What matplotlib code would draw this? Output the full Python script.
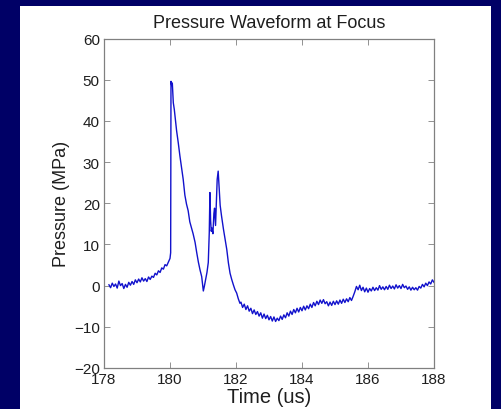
import numpy as np
import matplotlib.pyplot as plt
from matplotlib.patches import Rectangle

plt.rcParams['font.family'] = ['Liberation Sans', 'DejaVu Sans']

# baseline before the shock (us, MPa)
t_pre = [178.15, 178.20, 178.25, 178.30, 178.35, 178.40, 178.45, 178.50, 178.55, 178.60,
         178.65, 178.70, 178.75, 178.80, 178.85, 178.90, 178.95, 179.00, 179.05, 179.10,
         179.15, 179.20, 179.25, 179.30, 179.35, 179.40, 179.45, 179.50, 179.55, 179.60,
         179.65, 179.70, 179.75, 179.80, 179.85, 179.90, 179.95, 180.00, 180.02]
p_pre = [0.2, -0.5, 0.6, -0.2, 0.4, -0.6, 1.1, 0.0, 0.5, -0.7,
         0.3, -0.4, 0.8, 0.1, 1.0, 0.3, 1.4, 0.7, 1.6, 0.9,
         1.9, 1.1, 1.7, 1.0, 2.1, 1.5, 2.3, 2.0, 3.0, 2.6,
         3.6, 3.2, 4.3, 4.0, 5.1, 4.8, 5.7, 6.6, 8.0]

# shock front and secondary peaks
t_pulse = [180.03, 180.05, 180.07, 180.10, 180.13, 180.16, 180.20, 180.25, 180.30, 180.35,
           180.40, 180.45, 180.50, 180.55, 180.60, 180.66, 180.70, 180.76, 180.81, 180.86,
           180.91, 180.96, 181.01, 181.04, 181.08, 181.12, 181.16, 181.19, 181.21, 181.23,
           181.25, 181.27, 181.30, 181.33, 181.35, 181.38, 181.41, 181.43, 181.46, 181.49,
           181.52, 181.56, 181.62, 181.67, 181.72, 181.77, 181.82, 181.87, 181.92, 181.97,
           182.02, 182.07, 182.12]
p_pulse = [49.6, 48.6, 49.2, 44.4, 42.8, 40.5, 37.6, 34.7, 31.5, 28.6,
           25.8, 22.0, 19.8, 18.2, 15.5, 13.7, 12.6, 10.5, 8.0, 5.7,
           3.8, 2.2, -1.3, -0.2, 1.5, 3.2, 5.6, 12.9, 22.6, 16.0,
           13.2, 14.0, 12.6, 17.5, 18.8, 14.6, 21.0, 25.8, 27.8, 23.5,
           19.5, 17.0, 13.7, 11.3, 8.8, 5.5, 3.0, 1.5, 0.2, -1.0,
           -1.8, -3.2, -4.3]

# rarefaction tail
t_post = [182.15, 182.20, 182.25, 182.30, 182.35, 182.40, 182.45, 182.50, 182.55, 182.60,
          182.65, 182.70, 182.75, 182.80, 182.85, 182.90, 182.95, 183.00, 183.05, 183.10,
          183.15, 183.20, 183.25, 183.30, 183.35, 183.40, 183.45, 183.50, 183.55, 183.60,
          183.65, 183.70, 183.75, 183.80, 183.85, 183.90, 183.95, 184.00, 184.05, 184.10,
          184.15, 184.20, 184.25, 184.30, 184.35, 184.40, 184.45, 184.50, 184.55, 184.60,
          184.65, 184.70, 184.75, 184.80, 184.85, 184.90, 184.95, 185.00, 185.05, 185.10,
          185.15, 185.20, 185.25, 185.30, 185.35, 185.40, 185.45, 185.50, 185.55, 185.60,
          185.65, 185.70, 185.75, 185.80, 185.85, 185.90, 185.95, 186.00, 186.05, 186.10,
          186.15, 186.20, 186.25, 186.30, 186.35, 186.40, 186.45, 186.50, 186.55, 186.60,
          186.65, 186.70, 186.75, 186.80, 186.85, 186.90, 186.95, 187.00, 187.05, 187.10,
          187.15, 187.20, 187.25, 187.30, 187.35, 187.40, 187.45, 187.50, 187.55, 187.60,
          187.65, 187.70, 187.75, 187.80, 187.85, 187.90, 187.95, 188.00]
p_post = [-4.0, -5.3, -4.5, -5.8, -4.9, -6.2, -5.5, -6.8, -5.9, -7.0,
          -6.3, -7.4, -6.6, -7.9, -6.9, -8.0, -7.2, -8.3, -7.5, -8.6,
          -7.6, -8.7, -7.9, -8.5, -7.4, -8.2, -7.1, -7.8, -6.6, -7.4,
          -6.2, -7.0, -5.8, -6.6, -5.5, -6.4, -5.3, -6.1, -5.0, -5.9,
          -4.9, -5.6, -4.5, -5.3, -4.1, -4.9, -3.8, -4.6, -3.5, -4.3,
          -3.4, -4.4, -3.9, -4.9, -4.0, -4.8, -3.8, -4.6, -3.7, -4.5,
          -3.5, -4.3, -3.3, -4.1, -3.2, -3.9, -2.9, -3.6, -2.6, -1.5,
          -0.2, -1.0, 0.1, -1.2, -0.4, -1.5, -0.6, -1.6, -0.7, -1.3,
          -0.4, -1.2, -0.5, -1.1, 0.0, -0.9, -0.3, -1.0, -0.2, -0.9,
          0.1, -0.7, -0.1, -0.8, 0.2, -0.6, 0.0, -0.7, 0.3, -0.5,
          -0.1, -0.9, -0.3, -1.1, -0.4, -1.0, -0.5, -1.1, -0.2, -0.6,
          0.3, -0.3, 0.6, 0.0, 0.9, 0.4, 1.4, 0.8]

t = np.array(t_pre + t_pulse + t_post)
p = np.array(p_pre + p_pulse + p_post)

xticks = [178, 180, 182, 184, 186, 188]
yticks = [-20, -10, 0, 10, 20, 30, 40, 50, 60]

fig = plt.figure(figsize=(5.01, 4.10), dpi=100, facecolor='#000066')
# white panel of the slide
fig.patches.append(Rectangle((20 / 501, 0), 471 / 501, 403 / 410,
                             transform=fig.transFigure, facecolor='white',
                             edgecolor='none', zorder=-10))

ax = fig.add_axes([104 / 501, 1 - 369 / 410, 330 / 501, 329.5 / 410])
ax.set_facecolor('white')
ax.plot(t, p, color='#1212cc', linewidth=1.0)

ax.set_xlim(178, 188)
ax.set_ylim(-20, 60)
ax.set_xticks(xticks)
ax.set_yticks(yticks)
ax.tick_params(direction='in', top=True, right=True, length=4, width=0.6,
               color='#808080', labelcolor='#1e1e1e', labelsize=11)
ax.tick_params(axis='x', pad=3)
ax.tick_params(axis='y', pad=3)
for s in ax.spines.values():
    s.set_color('#808080')
    s.set_linewidth(0.9)

ax.set_title('Pressure Waveform at Focus', fontsize=13, color='#1e1e1e', pad=8)
ax.set_xlabel('Time (us)', fontsize=14.5, color='#1e1e1e')
ax.set_ylabel('Pressure (MPa)', fontsize=13, color='#1e1e1e')
ax.xaxis.set_label_coords(0.5, -0.058)
ax.yaxis.set_label_coords(-0.103, 0.5)

fig.savefig('out.png', dpi=100, facecolor=fig.get_facecolor())
